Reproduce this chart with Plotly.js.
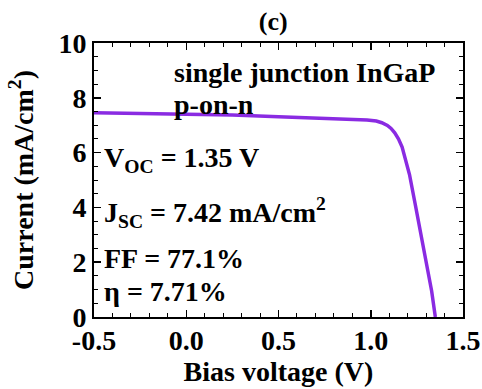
<!DOCTYPE html>
<html>
<head>
<meta charset="utf-8">
<script src="https://cdn.plot.ly/plotly-3.0.1.min.js"></script>
<style>html,body{margin:0;padding:0;background:#fff;}#chart{width:482px;height:389px;}
#warm{position:absolute;left:0;top:0;visibility:hidden;font-family:'Liberation Serif';font-weight:bold;font-size:20px;}</style>
</head>
<body>
<div id="warm">Warm font 0123456789 (mA/cm) η</div>
<div id="chart"></div>
<script>
const voltage = [-0.5, -0.25, 0.0, 0.25, 0.5, 0.75, 0.9, 0.98, 1.03, 1.06, 1.09, 1.11, 1.13, 1.15, 1.17, 1.19, 1.21, 1.24, 1.27, 1.3, 1.33, 1.35];
const current = [7.45, 7.43, 7.41, 7.37, 7.31, 7.26, 7.22, 7.19, 7.15, 7.09, 6.99, 6.88, 6.72, 6.50, 6.20, 5.75, 5.20, 4.15, 3.10, 2.00, 0.95, 0.0];
const xTickVals = [-0.5, 0.0, 0.5, 1.0, 1.5];
const yTickVals = [0, 2, 4, 6, 8, 10];
const labels = [
  "single junction InGaP",
  "p-on-n",
  "V<sub>OC</sub> = 1.35 V",
  "J<sub>SC</sub> = 7.42 mA/cm<sup>2</sup>",
  "FF = 77.1%",
  "η = 7.71%"
];

const FAM = "Liberation Serif";
const mkFont = (s) => ({family: FAM, size: s, color: "black"});
const b = (t) => "<b>" + t + "</b>";

const trace = {
  x: voltage, y: current, type: "scatter", mode: "lines",
  line: {color: "#8a2be2", width: 3.5},
  hoverinfo: "skip"
};

const axisCommon = {
  showline: true, linecolor: "#000", linewidth: 2, mirror: "ticks",
  ticks: "inside", ticklen: 7, tickwidth: 1.5, tickcolor: "#000",
  showgrid: false, zeroline: false, tickfont: mkFont(28)
};

const annPos = [
  {x: 0.212, y: 0.894},
  {x: 0.212, y: 0.774},
  {x: 0.022, y: 0.575},
  {x: 0.022, y: 0.383},
  {x: 0.022, y: 0.215},
  {x: 0.022, y: 0.092}
];

const layout = {
  width: 482, height: 389,
  margin: {l: 94, r: 19, t: 43, b: 72},
  paper_bgcolor: "#fff", plot_bgcolor: "#fff",
  showlegend: false,
  font: mkFont(20),
  title: {text: b("(c)"), font: mkFont(26), x: 0.567, xanchor: "center", y: 0.945, yanchor: "middle"},
  xaxis: Object.assign({}, axisCommon, {
    range: [-0.5, 1.5], tickvals: xTickVals, ticktext: xTickVals.map(v => b(v.toFixed(1))),
    ticklabelstandoff: -3,
    minor: {dtick: 0.1, ticks: "inside", ticklen: 4, tickwidth: 1, tickcolor: "#000", showgrid: false},
    title: {text: b("Bias voltage (V)"), font: mkFont(28), standoff: 4}
  }),
  yaxis: Object.assign({}, axisCommon, {
    range: [0, 10], tickvals: yTickVals, ticktext: yTickVals.map(v => b(String(v))),
    minor: {dtick: 0.5, ticks: "inside", ticklen: 4, tickwidth: 1, tickcolor: "#000", showgrid: false},
    title: {text: b("Current (mA/cm<sup>2</sup>)"), font: mkFont(28), standoff: 17}
  }),
  annotations: labels.map((t, i) => ({
    text: b(t), xref: "paper", yref: "paper", x: annPos[i].x, y: annPos[i].y,
    xanchor: "left", yanchor: "middle", showarrow: false, font: mkFont(28)
  }))
};

const draw = () => Plotly.newPlot("chart", [trace], layout, {staticPlot: true, displayModeBar: false});
if (document.fonts && document.fonts.load) {
  document.fonts.load("bold 20px 'Liberation Serif'").then(draw, draw);
} else { draw(); }
</script>
</body>
</html>
